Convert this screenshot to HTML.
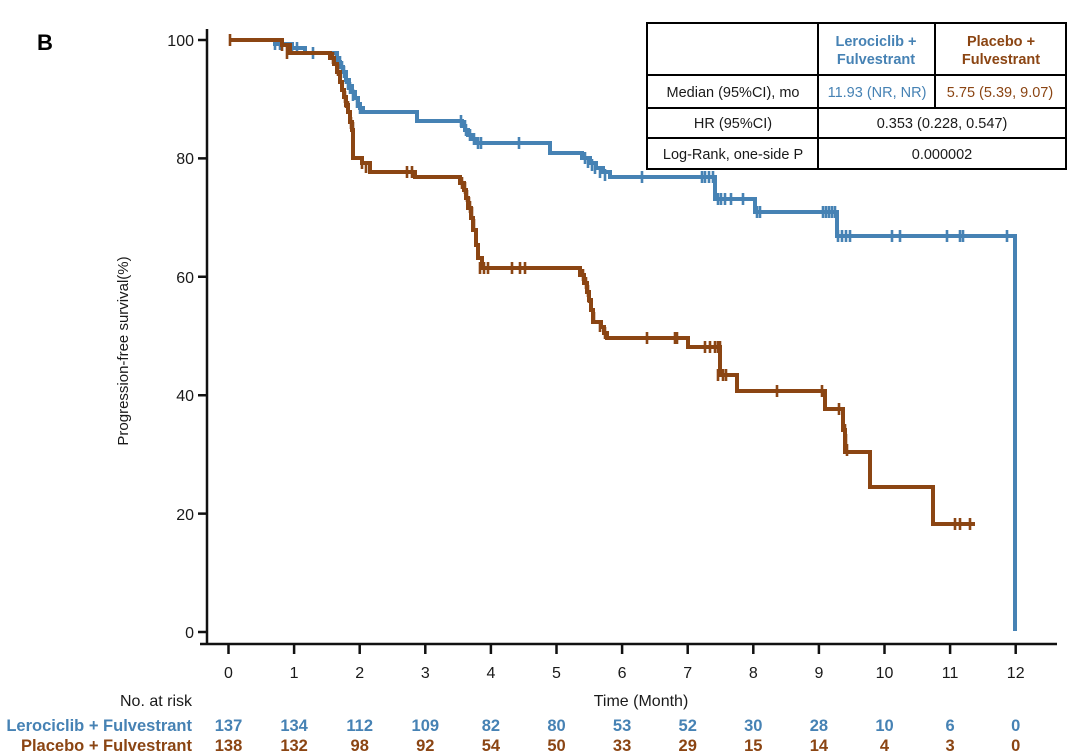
<!DOCTYPE html>
<html><head><meta charset="utf-8"><style>
html,body{margin:0;padding:0;background:#fff;}
svg{display:block;}
text{font-family:"Liberation Sans",Arial,sans-serif;fill:#1a1a1a;}
</style></head><body>
<svg width="1080" height="753" viewBox="0 0 1080 753" xmlns="http://www.w3.org/2000/svg">
<rect width="1080" height="753" fill="#fff"/>
<text x="37" y="50" font-size="22" font-weight="bold" style="fill:#000">B</text>

<!-- axes -->
<g stroke="#111" stroke-width="2.5" fill="none">
<path d="M207,29 V645"/>
<path d="M200,644 H1057"/>
<path d="M198,40 H207 M198,158.4 H207 M198,276.8 H207 M198,395.2 H207 M198,513.6 H207 M198,632 H207"/>
<path d="M228.5,644 V654 M294.1,644 V654 M359.7,644 V654 M425.3,644 V654 M490.9,644 V654 M556.5,644 V654 M622.1,644 V654 M687.7,644 V654 M753.3,644 V654 M818.9,644 V654 M884.5,644 V654 M950.1,644 V654 M1015.7,644 V654"/>
</g>
<g font-size="16" text-anchor="end">
<text x="194" y="46">100</text>
<text x="194" y="164">80</text>
<text x="194" y="283">60</text>
<text x="194" y="401">40</text>
<text x="194" y="520">20</text>
<text x="194" y="638">0</text>
</g>
<g font-size="16" text-anchor="middle">
<text x="228.5" y="678">0</text>
<text x="294.1" y="678">1</text>
<text x="359.7" y="678">2</text>
<text x="425.3" y="678">3</text>
<text x="490.9" y="678">4</text>
<text x="556.5" y="678">5</text>
<text x="622.1" y="678">6</text>
<text x="687.7" y="678">7</text>
<text x="753.3" y="678">8</text>
<text x="818.9" y="678">9</text>
<text x="884.5" y="678">10</text>
<text x="950.1" y="678">11</text>
<text x="1015.7" y="678">12</text>
<text x="641" y="706">Time (Month)</text>
</g>
<text transform="translate(128,351) rotate(-90)" font-size="15" text-anchor="middle">Progression-free survival(%)</text>

<!-- blue curve -->
<g stroke="#4682B4" fill="none" stroke-width="4">
<path d="M229,40 H275 V44 H292 V48 H305 V53 H337 V62 H340 V67 H343 V72 H346 V80 H349 V86 H352 V92 H355 V98 H358 V104 H360 V108 H363 V112 H417 V121 H462 V126 H465 V130 H468 V135 H472 V139 H477 V143 H550 V153 H582 V158 H590 V163 H596 V168 H603 V172 H610 V177 H715 V199 H755 V212 H837 V236 H1015 V631"/>
<path stroke-width="2.6" d="M275,38 V50 M280,38 V50 M292,42 V54 M297,42 V54 M313,47 V59 M340,56 V68 M342,61 V73 M344,66 V78 M346,72 V84 M348,78 V90 M350,82 V94 M353,89 V101 M357,96 V108 M360,102 V114 M461,115 V127 M465,120 V132 M466,124 V136 M470,129 V141 M474,133 V145 M478,137 V149 M481,137 V149 M519,137 V149 M585,152 V164 M588,156 V168 M592,159 V171 M595,162 V174 M600,166 V178 M605,169 V181 M642,171 V183 M702,171 V183 M705,171 V183 M709,171 V183 M713,171 V183 M718,193 V205 M721,193 V205 M725,193 V205 M731,193 V205 M743,193 V205 M757,206 V218 M760,206 V218 M823,206 V218 M826,206 V218 M829,206 V218 M832,206 V218 M835,206 V218 M838,230 V242 M842,230 V242 M846,230 V242 M850,230 V242 M892,230 V242 M900,230 V242 M947,230 V242 M960,230 V242 M963,230 V242 M1007,230 V242"/>
</g>

<!-- brown curve -->
<g stroke="#8B4513" fill="none" stroke-width="4">
<path d="M229,40 H282 V45 H290 V53 H330 V58 H334 V64 H337 V72 H340 V82 H342 V90 H344 V97 H346 V105 H348 V112 H350 V122 H352 V130 H353 V158 H362 V163 H370 V172 H415 V177 H460 V183 H464 V190 H466 V198 H468 V208 H471 V218 H473 V230 H476 V245 H478 V258 H482 V268 H580 V275 H584 V283 H587 V292 H589 V300 H591 V310 H593 V322 H601 V327 H604 V333 H607 V338 H688 V347 H720 V375 H737 V391 H825 V409 H843 V430 H845 V452 H870 V487 H933 V524 H975"/>
<path stroke-width="2.6" d="M230,34 V46 M282,39 V51 M287,47 V59 M333,52 V64 M338,64 V76 M345,91 V103 M346,96 V108 M348,101 V113 M350,112 V124 M351,117 V129 M353,122 V134 M362,157 V169 M366,161 V173 M407,166 V178 M412,166 V178 M462,177 V189 M465,182 V194 M467,190 V202 M469,197 V209 M470,201 V213 M472,207 V219 M474,219 V231 M476,234 V246 M478,244 V256 M480,262 V274 M484,262 V274 M488,262 V274 M512,262 V274 M520,262 V274 M525,262 V274 M583,269 V281 M586,277 V289 M588,285 V297 M589,291 V303 M591,299 V311 M594,312 V324 M600,320 V332 M605,327 V339 M647,332 V344 M675,332 V344 M677,332 V344 M705,341 V353 M710,341 V353 M715,341 V353 M718,341 V353 M720,341 V353 M718,369 V381 M723,369 V381 M726,369 V381 M777,385 V397 M822,385 V397 M839,403 V415 M845,424 V436 M846,434 V446 M847,444 V456 M955,518 V530 M960,518 V530 M970,518 V530"/>
</g>

<!-- table -->
<rect x="647" y="23" width="419" height="146" fill="#fff" stroke="#000" stroke-width="2"/>
<g stroke="#000" stroke-width="2" fill="none">
<path d="M818,23 V169 M935,23 V108 M647,75 H1066 M647,108 H1066 M647,138 H1066"/>
</g>
<g font-size="14.5" text-anchor="middle">
<text x="876" y="46" font-weight="bold" style="fill:#4682B4">Lerociclib +</text>
<text x="876" y="64" font-weight="bold" style="fill:#4682B4">Fulvestrant</text>
<text x="1001" y="46" font-weight="bold" style="fill:#8B4513">Placebo +</text>
<text x="1001" y="64" font-weight="bold" style="fill:#8B4513">Fulvestrant</text>
<text x="733" y="97">Median (95%CI), mo</text>
<text x="877" y="97" style="fill:#4682B4">11.93 (NR, NR)</text>
<text x="1000" y="97" style="fill:#8B4513">5.75 (5.39, 9.07)</text>
<text x="733" y="128">HR (95%CI)</text>
<text x="942" y="128">0.353 (0.228, 0.547)</text>
<text x="733" y="159">Log-Rank, one-side P</text>
<text x="942" y="159">0.000002</text>
</g>

<!-- risk table -->
<text x="192" y="706" font-size="16" text-anchor="end">No. at risk</text>
<text x="192" y="731" font-size="16.5" font-weight="bold" text-anchor="end" style="fill:#4682B4">Lerociclib + Fulvestrant</text>
<text x="192" y="751" font-size="16.5" font-weight="bold" text-anchor="end" style="fill:#8B4513">Placebo + Fulvestrant</text>
<g font-size="16.5" font-weight="bold" text-anchor="middle">
<text x="228.5" y="731" style="fill:#4682B4">137</text>
<text x="294.1" y="731" style="fill:#4682B4">134</text>
<text x="359.7" y="731" style="fill:#4682B4">112</text>
<text x="425.3" y="731" style="fill:#4682B4">109</text>
<text x="490.9" y="731" style="fill:#4682B4">82</text>
<text x="556.5" y="731" style="fill:#4682B4">80</text>
<text x="622.1" y="731" style="fill:#4682B4">53</text>
<text x="687.7" y="731" style="fill:#4682B4">52</text>
<text x="753.3" y="731" style="fill:#4682B4">30</text>
<text x="818.9" y="731" style="fill:#4682B4">28</text>
<text x="884.5" y="731" style="fill:#4682B4">10</text>
<text x="950.1" y="731" style="fill:#4682B4">6</text>
<text x="1015.7" y="731" style="fill:#4682B4">0</text>
</g>
<g font-size="16.5" font-weight="bold" text-anchor="middle">
<text x="228.5" y="751" style="fill:#8B4513">138</text>
<text x="294.1" y="751" style="fill:#8B4513">132</text>
<text x="359.7" y="751" style="fill:#8B4513">98</text>
<text x="425.3" y="751" style="fill:#8B4513">92</text>
<text x="490.9" y="751" style="fill:#8B4513">54</text>
<text x="556.5" y="751" style="fill:#8B4513">50</text>
<text x="622.1" y="751" style="fill:#8B4513">33</text>
<text x="687.7" y="751" style="fill:#8B4513">29</text>
<text x="753.3" y="751" style="fill:#8B4513">15</text>
<text x="818.9" y="751" style="fill:#8B4513">14</text>
<text x="884.5" y="751" style="fill:#8B4513">4</text>
<text x="950.1" y="751" style="fill:#8B4513">3</text>
<text x="1015.7" y="751" style="fill:#8B4513">0</text>
</g>
</svg>
</body></html>
